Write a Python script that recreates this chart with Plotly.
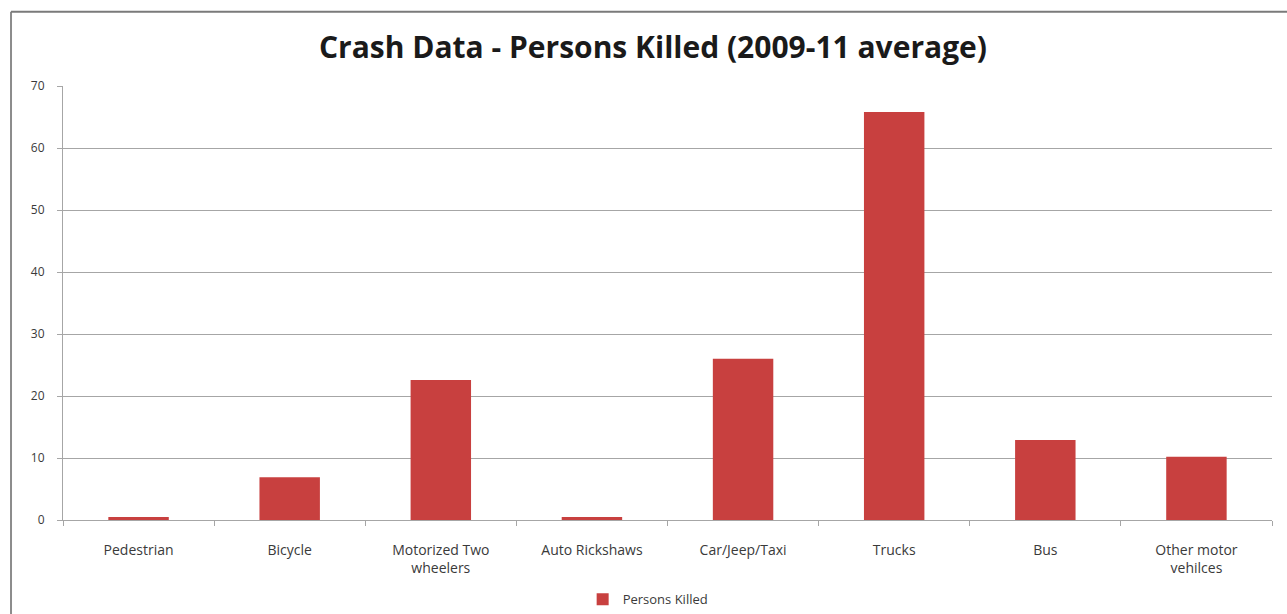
import plotly.graph_objects as go

# Crash data: persons killed by road-user category, 2009-11 average
categories = [
    "Pedestrian",
    "Bicycle",
    "Motorized Two<br>wheelers",
    "Auto Rickshaws",
    "Car/Jeep/Taxi",
    "Trucks",
    "Bus",
    "Other motor<br>vehilces",
]
persons_killed = [0.5, 6.9, 22.6, 0.5, 26.0, 65.8, 12.9, 10.2]
y_ticks = [0, 10, 20, 30, 40, 50, 60, 70]

bar_color = "#C8403F"
grid_color = "#A6A6A6"
text_color = "#3A3A3A"

fig = go.Figure()
fig.add_trace(go.Bar(
    x=categories,
    y=persons_killed,
    name="Persons Killed",
    marker=dict(color=bar_color, line=dict(width=0)),
    showlegend=True,
))

fig.update_layout(
    width=1287,
    height=614,
    paper_bgcolor="white",
    plot_bgcolor="white",
    margin=dict(l=63, r=15, t=86, b=94, autoexpand=False),
    bargap=0.6,
    font=dict(family="Open Sans", size=13, color=text_color),
    title=dict(
        text="<b>Crash Data - Persons Killed (2009-11 average)</b>",
        x=0.488, xref="paper", xanchor="center",
        y=0.922, yref="container", yanchor="middle",
        font=dict(family="Open Sans", size=30, color="#1A1A1A"),
    ),
    legend=dict(
        orientation="h",
        x=0.484, xanchor="center",
        y=0.024, yref="container", yanchor="middle",
        font=dict(size=13, color=text_color),
        itemwidth=30,
    ),
    shapes=[
        # chart-area frame: left and top edges
        dict(type="line", xref="paper", yref="paper",
             x0=-0.043, x1=-0.043, y0=1.171, y1=-0.3,
             line=dict(color="#8C8C8C", width=2)),
        dict(type="line", xref="paper", yref="paper",
             x0=-0.043, x1=1.02, y0=1.171, y1=1.171,
             line=dict(color="#7A7A7A", width=2)),
    ],
)

fig.update_xaxes(
    type="category",
    automargin=False,
    showline=True, linecolor=grid_color, linewidth=1,
    tickson="boundaries",
    ticks="outside", ticklen=5, tickcolor=grid_color,
    showgrid=False,
    ticklabelstandoff=17,
    tickfont=dict(size=14, color=text_color),
)

fig.update_yaxes(
    range=[0, 70],
    tickvals=y_ticks,
    automargin=False,
    showline=True, linecolor=grid_color, linewidth=1,
    ticks="outside", ticklen=5, tickcolor=grid_color,
    showgrid=True, gridcolor=grid_color, gridwidth=1,
    zeroline=False,
    ticklabelstandoff=10,
    tickfont=dict(size=12, color=text_color),
)

fig.write_html("out.html")
